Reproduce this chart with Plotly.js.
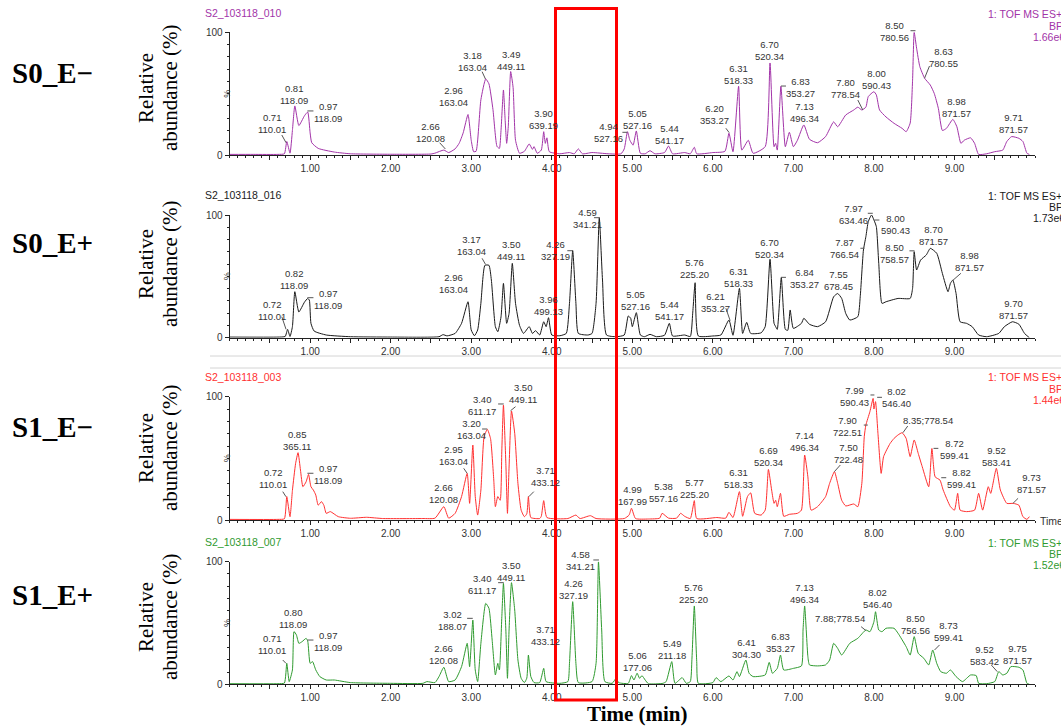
<!DOCTYPE html>
<html><head><meta charset="utf-8">
<script src="https://cdn.plot.ly/plotly-3.0.1.min.js"></script>
<style>html,body{margin:0;padding:0;background:#fff;}#chart{width:1061px;height:726px;}</style>
</head><body><div id="chart"></div>
<script>
// ---------- DATA ----------
const sampleNames = ["S0_E\u2212", "S0_E+", "S1_E\u2212", "S1_E+"];
const fileNames = ["S2_103118_010", "S2_103118_016", "S2_103118_003", "S2_103118_007"];
const scanFunction = "1: TOF MS ES+";
const scanType = "BPI";
const maxIntensity = ["1.66e6", "1.73e6", "1.44e6", "1.52e6"];
const timeTickLabels = ["1.00","2.00","3.00","4.00","5.00","6.00","7.00","8.00","9.00"];

// [time (min), relative abundance (%)]
const s0Minus = [[0,0.5],[0.3,0.5],[0.6,0.5],[0.68,1],[0.71,11],[0.75,1.5],[0.78,20],[0.81,40],[0.86,24],[0.93,32],[0.97,35],[1.0,18],[1.02,10],[1.1,5.4],[1.3,2.4],[1.5,1],[2.0,0.6],[2.5,0.8],[2.55,1.5],[2.66,4],[2.72,2],[2.8,5],[2.85,9.5],[2.9,18],[2.96,33],[3.0,12],[3.03,2.7],[3.06,3],[3.12,45],[3.18,62],[3.22,58],[3.27,37],[3.32,7],[3.35,5.4],[3.37,20],[3.4,53],[3.42,30],[3.44,9.5],[3.46,23],[3.49,68],[3.52,55],[3.55,12],[3.6,1.4],[3.66,3],[3.72,9],[3.76,4.6],[3.78,6.8],[3.82,1.4],[3.87,4],[3.9,19],[3.92,9.5],[3.94,14],[3.97,2.7],[4.1,1],[4.22,2],[4.28,1],[4.33,5],[4.38,1],[4.5,2],[4.7,1],[4.86,1],[4.9,5],[4.94,19],[4.97,12],[5.01,8],[5.05,19.6],[5.1,1.4],[5.16,1],[5.22,3.5],[5.28,1],[5.4,2],[5.45,7.3],[5.5,1],[5.65,2],[5.72,1],[5.77,6.3],[5.8,1],[6.0,2],[6.15,3],[6.2,17.7],[6.25,2.7],[6.32,56],[6.36,4],[6.44,12],[6.5,1.4],[6.65,6.8],[6.71,75],[6.76,6.8],[6.78,9.5],[6.8,4],[6.845,56],[6.9,6.8],[6.95,18.5],[7.0,6.8],[7.05,12],[7.13,24.5],[7.2,12.8],[7.3,10],[7.4,15],[7.5,27],[7.55,23],[7.65,32.6],[7.75,36.7],[7.8,39],[7.85,36.7],[7.9,39],[7.93,47.6],[8.0,51.6],[8.03,49],[8.07,36.7],[8.15,31],[8.25,25.8],[8.35,21.7],[8.4,19],[8.45,26],[8.48,61],[8.5,100],[8.53,87],[8.57,72],[8.63,62.5],[8.7,57],[8.75,50],[8.8,38],[8.85,20],[8.9,21.7],[8.98,29],[9.03,23],[9.08,9.5],[9.12,12],[9.2,14],[9.25,9.5],[9.3,0.5],[9.4,1],[9.5,2.7],[9.6,4],[9.65,11],[9.71,15],[9.8,13.6],[9.85,11],[9.9,1.4],[9.93,0.5]];

const s0Plus = [[0,0.5],[0.6,0.5],[0.69,1],[0.72,6.8],[0.75,1],[0.78,9],[0.81,37.5],[0.86,21],[0.93,29],[0.97,32],[0.99,30.7],[1.01,11.7],[1.05,5.4],[1.2,2.2],[1.5,0.8],[2.0,0.5],[2.6,0.8],[2.65,2.5],[2.7,1.5],[2.8,3.5],[2.88,11.7],[2.96,29.3],[3.0,6.3],[3.04,1.6],[3.08,6.3],[3.12,28],[3.17,59],[3.22,59],[3.25,47],[3.3,9],[3.33,4.9],[3.37,17],[3.4,44.3],[3.44,11.7],[3.47,19.8],[3.51,60.6],[3.55,28],[3.6,10],[3.65,3.5],[3.72,9],[3.76,3.5],[3.8,5.7],[3.85,2.2],[3.9,13],[3.93,9],[3.96,16.3],[4.0,2.2],[4.1,1.6],[4.18,3.5],[4.22,28],[4.26,71],[4.3,28],[4.33,3.5],[4.45,2.2],[4.5,3.5],[4.55,28],[4.59,97.8],[4.63,47],[4.68,2.2],[4.8,0.8],[4.9,2.2],[4.95,17.7],[4.98,15.8],[5.0,9],[5.05,20.4],[5.1,2.2],[5.15,0.8],[5.22,2.7],[5.3,0.8],[5.4,2],[5.46,11.7],[5.5,1.4],[5.65,2.2],[5.72,1],[5.75,20],[5.78,44.8],[5.82,1.4],[6.0,1.4],[6.1,2.2],[6.2,14.4],[6.25,2],[6.33,40.2],[6.37,3.5],[6.42,12.5],[6.47,3.5],[6.6,4],[6.65,9],[6.71,63.9],[6.76,11.7],[6.78,9],[6.8,6.8],[6.85,49],[6.9,6.8],[6.93,6],[6.96,22.6],[7.0,7.6],[7.1,11.7],[7.13,15.8],[7.2,10.9],[7.3,9],[7.4,13],[7.5,33.4],[7.55,36],[7.6,32],[7.65,19.8],[7.7,14.4],[7.8,17.1],[7.83,33.4],[7.87,71.5],[7.9,82.3],[7.93,94.6],[7.97,100],[8.0,96],[8.03,90.5],[8.06,60.6],[8.1,28],[8.15,29.3],[8.3,32],[8.45,32],[8.48,40.2],[8.5,70.1],[8.53,55.2],[8.58,63.3],[8.65,67.4],[8.7,72.8],[8.78,68.8],[8.85,52.4],[8.92,37.5],[8.95,44.3],[8.98,47],[9.02,36],[9.07,13],[9.15,11.7],[9.22,9],[9.3,2.2],[9.4,0.8],[9.55,3.5],[9.62,9],[9.72,13],[9.8,11],[9.87,3.5],[9.93,0]];

const s1Minus = [[0,0.5],[0.6,0.5],[0.68,1],[0.71,19],[0.75,2.7],[0.78,24],[0.82,46],[0.85,54.6],[0.88,40.5],[0.91,27],[0.95,31],[0.98,37],[1.01,27],[1.04,24.3],[1.07,20.3],[1.1,12],[1.14,14.9],[1.17,12],[1.2,5.4],[1.25,6.8],[1.35,2.7],[1.5,1.4],[1.7,2.2],[1.9,1.2],[2.4,1.2],[2.55,1.5],[2.66,10.8],[2.72,1.5],[2.8,5.4],[2.88,19],[2.95,37.8],[2.98,13.5],[3.02,60.8],[3.05,19],[3.08,4],[3.12,24.3],[3.16,67.6],[3.2,73.5],[3.24,66],[3.28,32.4],[3.3,10.8],[3.33,19],[3.36,16],[3.38,56.8],[3.4,93.2],[3.43,46],[3.45,5.4],[3.47,43],[3.5,88.4],[3.54,70.3],[3.58,29.7],[3.62,8],[3.66,2.7],[3.69,5],[3.71,19],[3.74,2],[3.85,1.2],[3.87,3],[3.9,15.7],[3.94,2],[4.2,1.2],[4.3,4],[4.35,1.2],[4.48,3.5],[4.55,1.2],[4.9,1.2],[4.96,4],[4.99,9.5],[5.04,1.2],[5.2,0.8],[5.34,1.5],[5.37,5.4],[5.45,1.5],[5.55,1.5],[5.6,5.4],[5.65,3],[5.72,1.2],[5.77,15.7],[5.8,1.2],[6.05,2],[6.16,1.5],[6.2,6.2],[6.25,2],[6.33,23],[6.37,3],[6.43,19],[6.47,22],[6.52,5.4],[6.6,4],[6.65,8],[6.69,41],[6.73,24.3],[6.76,13.5],[6.78,16],[6.8,10.8],[6.84,21.6],[6.88,3],[6.95,4.6],[7.05,5.4],[7.1,8],[7.14,52.7],[7.18,35],[7.22,8],[7.3,10.8],[7.4,19],[7.45,29.7],[7.51,39.2],[7.55,29.7],[7.6,16],[7.65,11.4],[7.75,13],[7.8,10.8],[7.85,29.7],[7.88,67.6],[7.9,77],[7.95,87.8],[7.99,98.6],[8.0,90],[8.02,96],[8.05,70.3],[8.09,37.8],[8.12,51.4],[8.2,62],[8.25,66.2],[8.3,69],[8.35,70.8],[8.4,66.2],[8.45,51.4],[8.5,64.9],[8.55,54],[8.6,43.2],[8.68,27],[8.72,58],[8.76,35],[8.82,32.4],[8.86,24.3],[8.95,10.8],[9.0,8],[9.04,21.6],[9.07,8],[9.15,6.8],[9.25,8],[9.3,21.6],[9.35,8],[9.42,27],[9.45,21.6],[9.52,41.9],[9.57,24.3],[9.65,13.5],[9.73,13.5],[9.8,12],[9.85,2.7],[9.9,0.5],[9.93,2.7]];

const s1Plus = [[0,0.5],[0.6,0.5],[0.68,1],[0.71,17.1],[0.74,2.2],[0.78,11.7],[0.8,43],[0.83,40.2],[0.86,33.4],[0.9,34.8],[0.95,37.5],[0.97,35.3],[1.0,17.1],[1.03,18.5],[1.07,11.7],[1.12,6.3],[1.2,3.5],[1.3,3.5],[1.5,1.4],[2.0,0.8],[2.4,0.8],[2.45,2.2],[2.55,1.4],[2.6,6.3],[2.66,13.9],[2.72,2.2],[2.8,3.5],[2.88,14.4],[2.95,33.4],[2.98,14.4],[3.02,52.4],[3.05,11.7],[3.08,2.2],[3.12,33.4],[3.18,66],[3.22,62],[3.26,36],[3.3,7.6],[3.33,17.1],[3.35,11.7],[3.38,55.2],[3.4,82.3],[3.43,44.3],[3.45,4.9],[3.47,44.3],[3.5,82.9],[3.54,60.6],[3.58,19.8],[3.62,4.9],[3.66,1.4],[3.69,5],[3.71,23.9],[3.74,6.3],[3.78,1.4],[3.85,1.4],[3.9,13],[3.93,2.2],[4.1,0.8],[4.2,2.2],[4.22,17.1],[4.26,67.4],[4.3,17.1],[4.33,1.4],[4.5,2.2],[4.55,17.1],[4.58,100],[4.62,44.3],[4.66,2.2],[4.75,0.8],[4.8,4.9],[4.83,1.4],[4.95,0.8],[4.99,7.1],[5.02,3.5],[5.06,9],[5.09,4.9],[5.12,7.1],[5.16,3.5],[5.2,0.5],[5.38,0.8],[5.42,2.2],[5.49,18.5],[5.53,0.8],[5.62,5.4],[5.67,0.8],[5.72,2.2],[5.74,20],[5.77,63.9],[5.8,18.5],[5.82,0.8],[6.0,1.4],[6.04,5.4],[6.1,2.2],[6.2,6.8],[6.25,3.5],[6.3,10.3],[6.33,6.3],[6.41,19.8],[6.45,9],[6.5,6.3],[6.65,7.6],[6.7,17.9],[6.74,9],[6.8,13],[6.84,23.9],[6.88,11.7],[7.0,13],[7.1,15],[7.12,44.3],[7.14,63.9],[7.18,22.6],[7.2,15.8],[7.3,15],[7.4,15.8],[7.45,19.8],[7.5,33.4],[7.55,29.3],[7.6,23.9],[7.7,33.4],[7.8,37.5],[7.9,44.3],[7.95,42.9],[8.0,51],[8.02,59.2],[8.06,44.3],[8.1,42.9],[8.15,45.7],[8.25,45.7],[8.3,41.6],[8.4,30.7],[8.45,23.9],[8.5,38.9],[8.55,25.3],[8.62,21.2],[8.68,15.8],[8.73,28],[8.78,17.1],[8.83,10.3],[8.9,9],[8.95,11.7],[9.02,6.3],[9.1,2.2],[9.2,7.6],[9.27,7.1],[9.3,0.8],[9.4,0.5],[9.5,2.2],[9.55,10.3],[9.6,7.6],[9.65,9],[9.7,14.4],[9.8,13.9],[9.85,11.7],[9.9,0.8],[9.93,0]];

// peak labels: [retention time, m/z]
const s0MinusPeaks = [["0.71","110.01"],["0.81","118.09"],["0.97","118.09"],["2.66","120.08"],["2.96","163.04"],["3.18","163.04"],["3.49","449.11"],["3.90","639.19"],["4.94","527.16"],["5.05","527.16"],["5.44","541.17"],["6.20","353.27"],["6.31","518.33"],["6.70","520.34"],["6.83","353.27"],["7.13","496.34"],["7.80","778.54"],["8.00","590.43"],["8.50","780.56"],["8.63","780.55"],["8.98","871.57"],["9.71","871.57"]];
const s0PlusPeaks = [["0.72","110.01"],["0.82","118.09"],["0.97","118.09"],["2.96","163.04"],["3.17","163.04"],["3.50","449.11"],["3.96","499.13"],["4.26","327.19"],["4.59","341.21"],["5.05","527.16"],["5.44","541.17"],["5.76","225.20"],["6.21","353.27"],["6.31","518.33"],["6.70","520.34"],["6.84","353.27"],["7.55","678.45"],["7.87","766.54"],["7.97","634.46"],["8.00","590.43"],["8.50","758.57"],["8.70","871.57"],["8.98","871.57"],["9.70","871.57"]];
const s1MinusPeaks = [["0.72","110.01"],["0.85","365.11"],["0.97","118.09"],["2.66","120.08"],["2.95","163.04"],["3.20","163.04"],["3.40","611.17"],["3.50","449.11"],["3.71","433.12"],["4.99","167.99"],["5.38","557.16"],["5.77","225.20"],["6.31","518.33"],["6.69","520.34"],["7.14","496.34"],["7.50","722.48"],["7.90","722.51"],["7.99","590.43"],["8.02","546.40"],["8.35;778.54"],["8.72","599.41"],["8.82","599.41"],["9.52","583.41"],["9.73","871.57"]];
const s1PlusPeaks = [["0.71","110.01"],["0.80","118.09"],["0.97","118.09"],["2.66","120.08"],["3.02","188.07"],["3.40","611.17"],["3.50","449.11"],["3.71","433.12"],["4.26","327.19"],["4.58","341.21"],["5.06","177.06"],["5.49","211.18"],["5.76","225.20"],["6.41","304.30"],["6.83","353.27"],["7.13","496.34"],["7.88;778.54"],["8.02","546.40"],["8.50","756.56"],["8.73","599.41"],["9.52","583.42"],["9.75","871.57"]];

// ---------- LAYOUT (label placement, in time units / panel-relative %) ----------
const labelPos = [
 [[0.527,25.7],[0.801,49.7],[1.224,34.6],[2.493,18.7],[2.779,47.7],[3.015,76.2],[3.488,77.4],[3.898,29.3],[4.706,18.3],[5.067,29.3],[5.465,17.1],[6.025,32.6],[6.323,65.6],[6.709,84.8],[7.094,55.0],[7.144,34.6],[7.642,54.2],[8.027,61.9],[8.251,100.6],[8.861,79.1],[9.022,39.1],[9.731,25.3]],
 [[0.527,21.8],[0.801,47.5],[1.224,31.3],[2.779,43.8],[3.003,74.8],[3.5,70.7],[3.96,26.6],[4.047,70.7],[4.445,96.9],[5.042,30.7],[5.465,21.8],[5.776,56.0],[6.037,28.3],[6.323,49.3],[6.709,73.1],[7.132,48.5],[7.555,47.0],[7.629,73.1],[7.741,100.0],[8.264,92.6],[8.251,68.9],[8.736,82.9],[9.184,61.7],[9.731,22.6]],
 [[0.539,33.3],[0.838,64.1],[1.224,36.5],[2.654,21.1],[2.779,52.7],[3.003,73.0],[3.139,92.5],[3.637,102.2],[3.923,34.9],[5.005,19.5],[5.39,21.9],[5.776,25.9],[6.323,33.3],[6.696,51.1],[7.144,63.3],[7.679,54.3],[7.667,76.2],[7.754,99.8],[8.276,99.0],[8.674,81.1],[8.997,56.8],[9.085,33.3],[9.52,51.1],[9.955,29.2]],
 [[0.527,32.1],[0.788,53.3],[1.224,34.7],[2.654,24.0],[2.766,52.4],[3.139,81.8],[3.488,92.4],[3.923,39.4],[4.271,77.0],[4.358,100.6],[5.067,19.0],[5.49,28.0],[5.764,73.7],[6.423,29.6],[6.846,33.7],[7.144,73.7],[7.58,53.3],[8.04,69.6],[8.512,48.5],[8.923,42.9],[9.371,23.2],[9.781,24.0]]
];
// small leader strokes from labels to peaks: [panel, t0, v0, t1, v1]
const leaders = [
 [0,0.648,16.3,0.701,10.0],[0,0.966,35.9,1.041,35.9],[0,2.608,10,2.679,4.9],[0,3.135,67.9,3.177,61.9],[0,4.877,18.5,4.939,18.5],
 [0,6.162,21.8,6.203,18.2],[0,6.846,56.2,6.908,56.2],[0,7.80,44.8,7.862,36.7],[0,8.454,101.3,8.516,101.3],[0,8.69,72.5,8.628,62.5],
 [1,0.648,17.1,0.701,6.8],[1,0.966,32.6,1.041,32.6],[1,3.135,64.7,3.177,59.8],[1,4.193,70.9,4.262,70.9],[1,4.524,97.8,4.595,97.8],
 [1,6.162,24,6.215,13.9],[1,6.846,49.2,6.908,49.2],[1,7.832,72.9,7.882,72.9],[1,7.924,101.4,7.986,101.4],[1,8.006,95.9,8.068,95.9],
 [1,8.441,70.8,8.504,70.8],[1,8.96,45.6,9.08,52.5],
 [2,0.66,23,0.70,18.9],[2,0.966,37.9,1.041,37.9],[2,2.907,41.9,2.949,37.9],[2,3.135,73.8,3.198,73.8],[2,3.334,94.1,3.404,94.1],
 [2,3.488,88.6,3.55,91.9],[2,3.715,18.9,3.777,23],[2,7.509,39.2,7.583,44.6],[2,7.874,77,7.924,77],[2,7.957,101.4,8.006,101.4],
 [2,8.04,99.5,8.10,99.5],[2,8.36,70.8,8.42,76.2],[2,8.74,58.1,8.80,58.1],[2,8.836,34.3,8.898,34.3],[2,9.727,13.5,9.79,17.6],
 [3,0.66,19.8,0.70,17.1],[3,0.966,36.1,1.041,36.1],[3,2.949,53.8,3.019,53.8],[3,3.334,82.9,3.404,82.9],[3,4.516,101.4,4.586,101.4],
 [3,7.841,47,7.903,43.7],[3,8.753,28,8.815,32.1],[3,9.458,15.7,9.532,10.3]
];

const W = 1061, H = 726;
const series = [s0Minus, s0Plus, s1Minus, s1Plus];
const peaks = [s0MinusPeaks, s0PlusPeaks, s1MinusPeaks, s1PlusPeaks];
const colors = ["#a234a8", "#1a1a1a", "#ff3030", "#2f9a2f"];
// panel pixel geometry: [top (100%), bottom (0%)]
const panelPx = [[32.3,155],[215,337.7],[396.7,520],[561.7,684.3]];
const sampleLabelY = [73, 243, 427, 595];
const relAbY = [88, 264, 448, 617];
const fileY = [13, 195, 377, 542];
const infoY = [[14,26,37],[196,207,218],[377,389,400],[543,554,565]];
const xDom = [229.6/W, 1035/W];
const py = v => 1 - v/H;
const panelPaperY = (i, v) => py(panelPx[i][1] - v/100*(panelPx[i][1]-panelPx[i][0]));
const timePaperX = t => xDom[0] + t/10*(xDom[1]-xDom[0]);

const traces = [];
const layout = {
  width: W, height: H, margin: {l:0,r:0,t:0,b:0},
  paper_bgcolor: "#fff", plot_bgcolor: "#fff", showlegend: false,
  font: {family: "Arial, 'Liberation Sans', sans-serif", color: "#333"},
  annotations: [], shapes: []
};

const tickVals = [], tickText = [];
for (let k = 1; k <= 19; k++) {
  tickVals.push(k * 0.5);
  tickText.push(k % 2 === 0 ? timeTickLabels[k/2 - 1] : "");
}

for (let i = 0; i < 4; i++) {
  const n = i + 1;
  const xa = i === 0 ? "xaxis" : "xaxis" + n;
  const ya = i === 0 ? "yaxis" : "yaxis" + n;
  const xr = i === 0 ? "x" : "x" + n;
  const yr = i === 0 ? "y" : "y" + n;
  traces.push({
    type: "scatter", mode: "lines", xaxis: xr, yaxis: yr,
    x: series[i].map(p => p[0]), y: series[i].map(p => p[1]),
    line: {color: colors[i], width: 1, shape: "spline", smoothing: 0.5}, hoverinfo: "skip"
  });
  layout[xa] = {
    domain: xDom, range: [0, 10], anchor: yr,
    showline: true, linecolor: "#222", linewidth: 1, showgrid: false, zeroline: false,
    ticks: "outside", ticklen: 4, tickcolor: "#222", tickwidth: 1,
    tickmode: "array", tickvals: tickVals, ticktext: tickText,
    tickfont: {size: 10, color: "#333"},
    minor: {tickmode: "linear", tick0: 0, dtick: 0.1, ticks: "outside", ticklen: 2, tickcolor: "#222"},
    fixedrange: true
  };
  layout[ya] = {
    domain: [1 - panelPx[i][1]/H, 1 - panelPx[i][0]/H], range: [0, 100], anchor: xr,
    showline: true, linecolor: "#222", linewidth: 1, showgrid: false, zeroline: false,
    ticks: "outside", ticklen: 4, tickcolor: "#222",
    tickmode: "array", tickvals: [0, 100], ticktext: ["0", "100"],
    tickfont: {size: 10, color: "#333"},
    minor: {tickmode: "linear", tick0: 0, dtick: 10, ticks: "outside", ticklen: 2, tickcolor: "#222"},
    fixedrange: true
  };
  peaks[i].forEach((p, j) => {
    layout.annotations.push({
      xref: xr, yref: "paper", x: labelPos[i][j][0], y: panelPaperY(i, labelPos[i][j][1]),
      text: p.length === 2 ? p[0] + "<br>" + p[1] : p[0],
      showarrow: false, xanchor: "center", yanchor: "middle", align: "center",
      font: {size: 9.5, color: "#333", family: "Arial, 'Liberation Sans', sans-serif"}
    });
  });
  layout.annotations.push({xref: "paper", yref: yr, x: 220/W, y: 50, text: "%", textangle: -90,
    showarrow: false, font: {size: 9, color: "#333"}});
  layout.annotations.push({xref: "paper", yref: "paper", x: 10/W, y: py(sampleLabelY[i]),
    xanchor: "left", yanchor: "middle", text: sampleNames[i], showarrow: false,
    font: {family: "'Liberation Serif', 'Times New Roman', serif", size: 29, weight: "bold", color: "#000"}});
  layout.annotations.push({xref: "paper", yref: "paper", x: 146/W, y: py(relAbY[i]),
    xanchor: "center", yanchor: "middle", text: "Relative", textangle: -90, showarrow: false,
    font: {family: "'Liberation Serif', 'Times New Roman', serif", size: 21, color: "#000"}});
  layout.annotations.push({xref: "paper", yref: "paper", x: 170/W, y: py(relAbY[i]),
    xanchor: "center", yanchor: "middle", text: "abundance (%)", textangle: -90, showarrow: false,
    font: {family: "'Liberation Serif', 'Times New Roman', serif", size: 21, color: "#000"}});
  layout.annotations.push({xref: "paper", yref: "paper", x: 283/W, y: py(fileY[i]),
    xanchor: "right", yanchor: "middle", text: fileNames[i], showarrow: false,
    font: {size: 10.5, color: colors[i]}});
  layout.annotations.push({xref: "paper", yref: "paper", x: 986/W, y: py(infoY[i][0]),
    xanchor: "left", yanchor: "middle", text: scanFunction, showarrow: false, font: {size: 10.5, color: colors[i]}});
  layout.annotations.push({xref: "paper", yref: "paper", x: 1047/W, y: py(infoY[i][1]),
    xanchor: "left", yanchor: "middle", text: scanType, showarrow: false, font: {size: 10.5, color: colors[i]}});
  layout.annotations.push({xref: "paper", yref: "paper", x: 1031/W, y: py(infoY[i][2]),
    xanchor: "left", yanchor: "middle", text: maxIntensity[i], showarrow: false, font: {size: 10.5, color: colors[i]}});
}

leaders.forEach(l => layout.shapes.push({type: "line", xref: "paper", yref: "paper",
  x0: timePaperX(l[1]), y0: panelPaperY(l[0], l[2]), x1: timePaperX(l[3]), y1: panelPaperY(l[0], l[4]),
  line: {color: "#555", width: 1}}));

layout.annotations.push({xref: "paper", yref: "paper", x: 1038/W, y: py(521), xanchor: "left", yanchor: "middle",
  text: "Time", showarrow: false, font: {size: 10.5, color: "#333"}});
layout.annotations.push({xref: "paper", yref: "paper", x: 637/W, y: py(714), xanchor: "center", yanchor: "middle",
  text: "Time (min)", showarrow: false,
  font: {family: "'Liberation Serif', 'Times New Roman', serif", size: 21, weight: "bold", color: "#000"}});

[356, 368].forEach(yy => layout.shapes.push({type: "line", xref: "paper", yref: "paper",
  x0: 210/W, x1: 1, y0: py(yy), y1: py(yy), line: {color: "#d4d4d4", width: 1}}));
layout.shapes.push({type: "rect", xref: "paper", yref: "paper",
  x0: 555.5/W, x1: 616.5/W, y0: py(700), y1: py(8.5),
  line: {color: "#ff0000", width: 3}, fillcolor: "rgba(0,0,0,0)", layer: "above"});

Plotly.newPlot("chart", traces, layout, {staticPlot: true, displayModeBar: false});
</script></body></html>
